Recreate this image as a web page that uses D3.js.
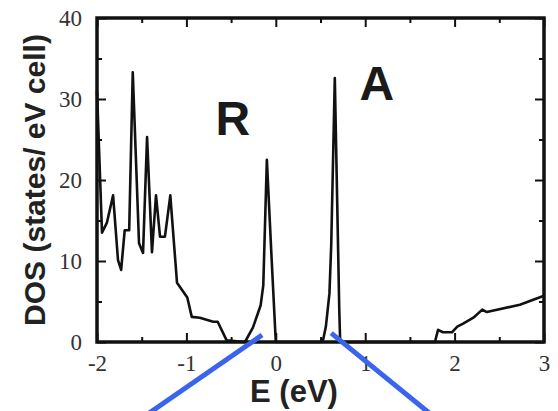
<!DOCTYPE html>
<html>
<head>
<meta charset="utf-8">
<script src="https://cdn.jsdelivr.net/npm/d3@7"></script>
<style>
    body { margin: 0; background: #fff; }
    svg { display: block; }
    .tick text { font-family: "Liberation Serif", "Times New Roman", Times, "DejaVu Serif", serif !important; }
</style>
</head>
<body>
<svg id="chart" width="558" height="411"></svg>
<script>
// 能量 (eV)
const energy = [
    -2.0, -1.944, -1.89, -1.82, -1.765, -1.73, -1.69, -1.64, -1.6, -1.53, -1.485,
    -1.44, -1.385, -1.34, -1.295, -1.24, -1.18, -1.105, -0.99, -0.94, -0.85, -0.70,
    -0.65, -0.55, -0.345, -0.255, -0.17, -0.14, -0.10, -0.05, 0.0, 0.5, 0.53,
    0.56, 0.6, 0.62, 0.66, 0.71, 0.72, 1.78, 1.815, 1.87, 1.97, 2.03, 2.10, 2.21,
    2.31, 2.36, 2.73, 3.0
]
// 态密度 (states/ eV cell)
const dos = [
    31, 13.5, 14.7, 18.1, 10.1, 8.9, 13.8, 13.8, 33.3, 12.2, 11.0,
    25.3, 11.1, 18.1, 13.0, 13.0, 18.1, 7.3, 5.5, 3.1, 3.0, 2.5,
    2.5, 0.2, 0, 1.8, 4.5, 7.0, 22.5, 11, 0, 0, 0.3,
    1.9, 6.0, 12, 32.6, 4, 0, 0, 1.5, 1.2, 1.2, 1.9, 2.3, 3.0,
    4.0, 3.7, 4.6, 5.7
]
// 刻度
const xTicks = [-2, -1, 0, 1, 2, 3]
const yTicks = [0, 10, 20, 30, 40]
// 标注
const labels = [
    { text: 'R', e: -0.48, d: 25.6 },
    { text: 'A', e: 1.13, d: 29.9 }
]
// 蓝色指示线 (数据坐标)
const pointers = [
    [[-0.154, 0.86], [-1.42, -8.8]],
    [[0.62, 1.1], [1.72, -8.8]]
]

const margin = { left: 97, right: 14, top: 18, bottom: 69 }
const width = 558, height = 411
const svg = d3.select('#chart')

const x = d3.scaleLinear().domain([-2, 3]).range([margin.left, width - margin.right])
const y = d3.scaleLinear().domain([0, 40]).range([height - margin.bottom, margin.top])

const sans = "'Liberation Sans', Arial, sans-serif"

// 坐标轴（刻度朝内）
const addAxis = function (axis, transform) {
    const g = svg.append('g').attr('transform', transform).call(axis)
    g.attr('font-family', null)
    g.select('.domain').remove()
    g.selectAll('line').attr('stroke', '#111').attr('stroke-width', 2)
    g.selectAll('text')
        .style('font-size', '23px')
        .attr('fill', '#333')
    return g
}
// 主刻度 (用连字符代替减号)
addAxis(d3.axisBottom(x).tickValues(xTicks).tickSize(-9).tickPadding(13).tickFormat((d) => String(d)),
    `translate(0,${y(0)})`)
addAxis(d3.axisLeft(y).tickValues(yTicks).tickSize(-9).tickPadding(15),
    `translate(${x(-2)},0)`)
// 次刻度
const minorX = d3.range(-1.5, 3, 1)
const minorY = d3.range(5, 40, 10)
addAxis(d3.axisBottom(x).tickValues(minorX).tickSize(-5).tickFormat(''), `translate(0,${y(0)})`)
addAxis(d3.axisLeft(y).tickValues(minorY).tickSize(-5).tickFormat(''), `translate(${x(-2)},0)`)
addAxis(d3.axisTop(x).tickValues(xTicks).tickSize(-9).tickFormat(''), `translate(0,${y(40)})`)
addAxis(d3.axisTop(x).tickValues(minorX).tickSize(-5).tickFormat(''), `translate(0,${y(40)})`)
addAxis(d3.axisRight(y).tickValues(yTicks).tickSize(-9).tickFormat(''), `translate(${x(3)},0)`)
addAxis(d3.axisRight(y).tickValues(minorY).tickSize(-5).tickFormat(''), `translate(${x(3)},0)`)

// 边框
svg.append('rect')
    .attr('x', x(-2)).attr('y', y(40))
    .attr('width', x(3) - x(-2)).attr('height', y(0) - y(40))
    .attr('fill', 'none').attr('stroke', '#111').attr('stroke-width', 3.5)

// DOS 曲线
const line = d3.line().x((d, i) => x(energy[i])).y((d) => y(d))
svg.append('path')
    .attr('d', line(dos))
    .attr('fill', 'none')
    .attr('stroke', '#111')
    .attr('stroke-width', 2.6)
    .attr('stroke-linejoin', 'round')

// 轴标题
svg.append('text')
    .attr('transform', `translate(45,${(y(0) + y(40)) / 2}) rotate(-90)`)
    .attr('text-anchor', 'middle')
    .style('font-family', sans).style('font-weight', 'bold').style('font-size', '30px')
    .attr('fill', '#222')
    .text('DOS (states/ eV cell)')
svg.append('text')
    .attr('x', 294).attr('y', 402)
    .attr('text-anchor', 'middle')
    .style('font-family', sans).style('font-weight', 'bold').style('font-size', '31px')
    .attr('fill', '#222')
    .text('E (eV)')

// R / A 标注
svg.selectAll('.lbl').data(labels).enter()
    .append('text')
    .attr('class', 'lbl')
    .attr('x', (d) => x(d.e)).attr('y', (d) => y(d.d))
    .attr('text-anchor', 'middle')
    .style('font-family', sans).style('font-weight', 'bold').style('font-size', '48px')
    .attr('fill', '#1a1a1a')
    .text((d) => d.text)

// 蓝色指示线
svg.selectAll('.ptr').data(pointers).enter()
    .append('line')
    .attr('class', 'ptr')
    .attr('x1', (d) => x(d[0][0])).attr('y1', (d) => y(d[0][1]))
    .attr('x2', (d) => x(d[1][0])).attr('y2', (d) => y(d[1][1]))
    .attr('stroke', '#3b64ee')
    .attr('stroke-width', 5)
</script>
</body>
</html>
